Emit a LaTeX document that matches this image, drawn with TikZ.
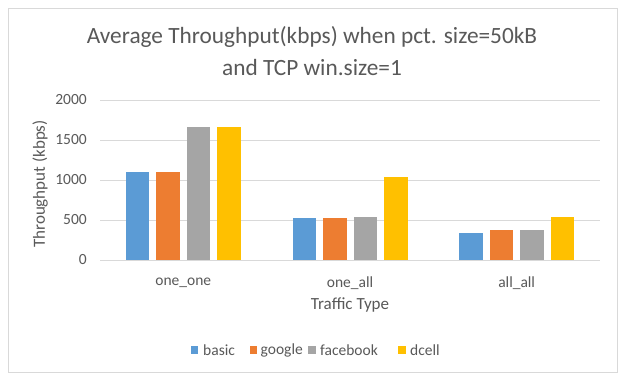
\documentclass[tikz,border=0pt]{standalone}
\usepackage{fontspec}
\setmainfont{Carlito}
\definecolor{basicc}{HTML}{5B9BD5}
\definecolor{googlec}{HTML}{ED7D31}
\definecolor{facebookc}{HTML}{A5A5A5}
\definecolor{dcellc}{HTML}{FFC000}
\definecolor{txt}{HTML}{595959}
\definecolor{gridc}{HTML}{D9D9D9}
\tikzset{
  frame/.style={draw=gridc, line width=1pt},
  gridline/.style={draw=gridc, line width=0.9pt},
  lbl/.style={text=txt, inner sep=0pt, font=\fontsize{15.5}{18}\selectfont},
  leglbl/.style={text=txt, inner sep=0pt, font=\fontsize{15.5}{18}\selectfont},
  titletext/.style={text=txt, inner sep=0pt, font=\fontsize{23.3}{27}\selectfont},
  axtitle/.style={text=txt, inner sep=0pt, font=\fontsize{17}{20}\selectfont},
  legsq/.style={minimum size=7.5pt, inner sep=0pt},
}
\begin{document}
\begin{tikzpicture}[x=1pt, y=-1pt]
\useasboundingbox (0,0) rectangle (620,373);
\fill[white] (0,0) rectangle (620,373);
\draw[frame] (8.5,8.5) rectangle (617,372);

% chart title
\node[titletext] (title1) at (312,37) {Average Throughput(kbps) when pct. size=50kB};
\node[titletext] (title2) at (312,67) {and TCP win.size=1};

% horizontal grid lines and value labels
\foreach \v in {0,500,1000,1500,2000} {
  \draw[gridline] (100,{260-\v*0.08}) -- (600,{260-\v*0.08});
  \node[lbl, anchor=east] (tick\v) at (87,{260-\v*0.08}) {\v};
}

% bars: basic, google, facebook, dcell per traffic type
\foreach \cat/\cx/\va/\vb/\vc/\vd in {
    one_one/183.33/1104/1104/1658/1658,
    one_all/350/520/520/533/1037,
    all_all/516.67/333/371/371/533} {
  \fill[basicc]    ({\cx-45.75-11.75},260) rectangle ({\cx-45.75+11.75},{260-\va*0.08});
  \fill[googlec]   ({\cx-15.25-11.75},260) rectangle ({\cx-15.25+11.75},{260-\vb*0.08});
  \fill[facebookc] ({\cx+15.25-11.75},260) rectangle ({\cx+15.25+11.75},{260-\vc*0.08});
  \fill[dcellc]    ({\cx+45.75-11.75},260) rectangle ({\cx+45.75+11.75},{260-\vd*0.08});
  \node[lbl] (cat-\cat) at (\cx,283) {\detokenize\expandafter{\cat}};
}

% axis titles
\node[axtitle, rotate=90] (ytitle) at (40,184) {Throughput (kbps)};
\node[axtitle] (xtitle) at (350,305) {Traffic Type};

% legend
\node[legsq, fill=basicc] (lg-basic) at (194.5,350) {};
\node[leglbl, anchor=west] (lt-basic) at (203,350) {basic};
\node[legsq, fill=googlec] (lg-google) at (253.5,350) {};
\node[leglbl, anchor=west] (lt-google) at (260.5,350) {google};
\node[legsq, fill=facebookc] (lg-facebook) at (312,350) {};
\node[leglbl, anchor=west] (lt-facebook) at (320,350) {facebook};
\node[legsq, fill=dcellc] (lg-dcell) at (402,350) {};
\node[leglbl, anchor=west] (lt-dcell) at (410,350) {dcell};
\end{tikzpicture}
\end{document}
